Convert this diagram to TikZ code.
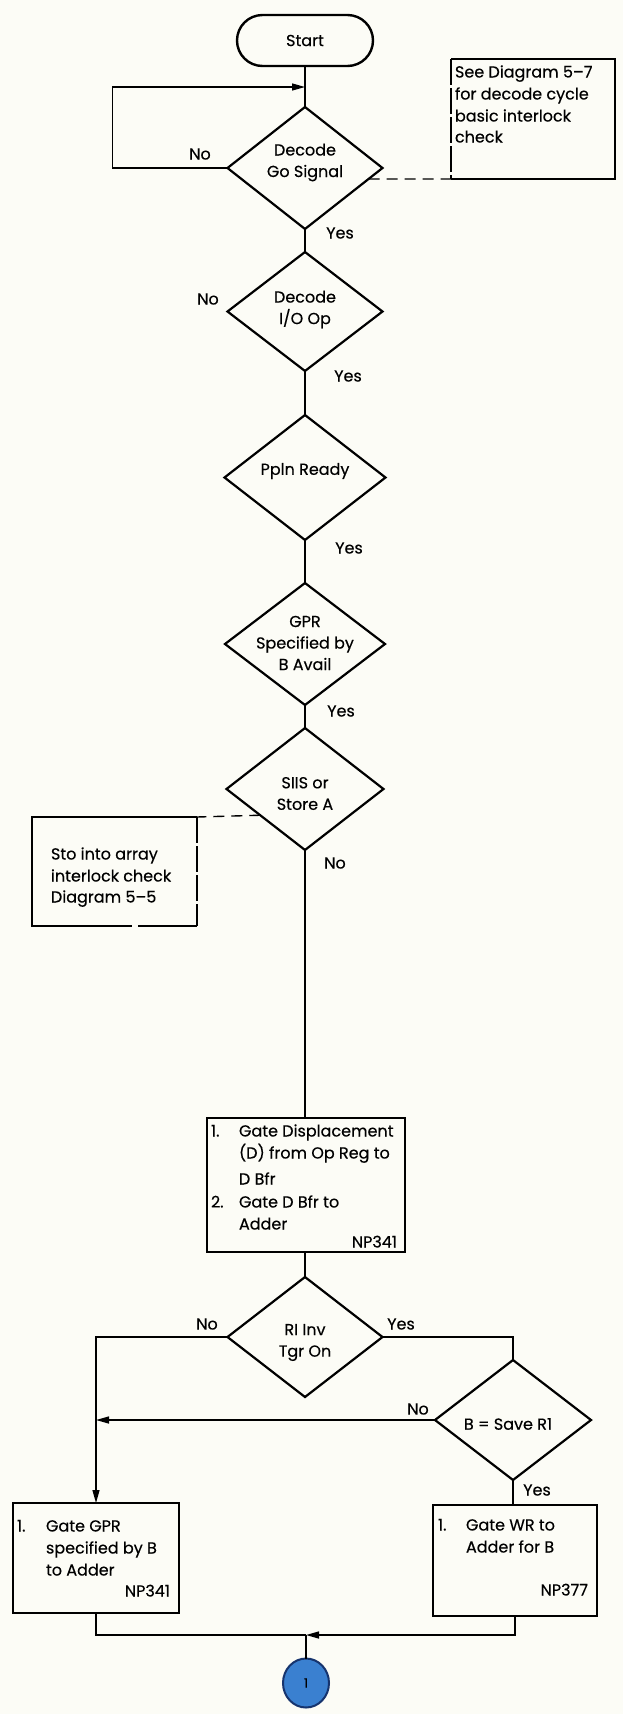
\documentclass[tikz,border=0pt]{standalone}
\usepackage{fontspec}
\setmainfont{Poppins}[FakeBold=0.35]
\usetikzlibrary{shapes.geometric,shapes.misc,arrows.meta,calc}
\definecolor{paper}{RGB}{252,252,246}
\definecolor{connfill}{RGB}{58,128,208}
\definecolor{connedge}{RGB}{22,52,110}

% one line of box text, baseline placed a little below the given centre line
\newcommand{\boxline}[5]{\node[tl,anchor=base #2] (#1) at (#3,#4+5.5) {#5};}

\begin{document}
\begin{tikzpicture}[x=1pt,y=-1pt,
  every node/.style={outer sep=0pt, inner sep=0pt},
  txt/.style={font=\fontsize{16}{21.5}\selectfont, align=center},
  tl/.style={font=\fontsize{16}{21.5}\selectfont},
  dec/.style={diamond, draw, line width=2.2pt, minimum width=155pt, minimum height=122pt},
  proc/.style={rectangle, draw, line width=2pt},
  term/.style={rounded rectangle, draw, line width=2.4pt, minimum width=136pt, minimum height=51pt, font=\fontsize{16}{18}\selectfont},
  flow/.style={line width=1.4pt},
  note/.style={line width=1.4pt, dash pattern=on 11pt off 7pt},
  edge/.style={line width=1.7pt},
  longdash/.style={line width=1.7pt, dash pattern=on 26pt off 3pt},
  arr/.style={-{Triangle[length=13pt,width=7pt]}},
]
\fill[paper] (0,0) rectangle (623,1714);
\useasboundingbox (0,0) rectangle (623,1714);

% ---- main column ----
\node[term] (start) at (305,40.5) {Start};

\node[dec] (go) at (305,168) {};
\node[txt] (goT) at (305,162.5) {Decode\\Go Signal};

\node[dec, minimum height=119pt] (io) at (305,311.5) {};
\node[txt] (ioT) at (305,309.5) {Decode\\I/O Op};

\node[dec, minimum width=161pt, minimum height=125pt] (ppln) at (305,477.5) {};
\node[txt] (pplnT) at (305,471) {Ppln Ready};

\node[dec, minimum width=160pt] (gpr) at (305,644) {};
\node[txt] (gprT) at (305,643) {GPR\\Specified by\\B Avail};

\node[dec, minimum width=157pt] (siis) at (305,789) {};
\node[txt] (siisT) at (305,793.5) {SIIS or\\Store A};

\node[proc, minimum width=198pt, minimum height=134pt] (disp) at (306,1185) {};
\boxline{dA}{west}{211}{1131}{1.}
\boxline{dB}{west}{239}{1131}{Gate Displacement}
\boxline{dC}{west}{239}{1153}{(D) from Op Reg to}
\boxline{dD}{west}{239}{1179}{D Bfr}
\boxline{dE}{west}{211}{1202}{2.}
\boxline{dF}{west}{239}{1202}{Gate D Bfr to}
\boxline{dG}{west}{239}{1224}{Adder}
\boxline{dH}{east}{397}{1242}{NP341}

\node[dec, minimum height=120pt] (ri) at (305,1337) {};
\node[txt] (riT) at (305,1342.5) {RI Inv\\Tgr On};

\node[dec, minimum width=156pt, minimum height=120pt] (sav) at (513,1420) {};
\node[txt] (savT) at (508,1424) {B = Save R1};

\node[proc, minimum width=166pt, minimum height=110pt] (gpra) at (96,1558) {};
\boxline{gA}{west}{17}{1526}{1.}
\boxline{gB}{west}{46}{1526}{Gate GPR}
\boxline{gC}{west}{46}{1548}{specified by B}
\boxline{gD}{west}{46}{1570}{to Adder}
\boxline{gE}{east}{170}{1591}{NP341}

\node[proc, minimum width=164pt, minimum height=111pt] (wra) at (515,1560.5) {};
\boxline{wA}{west}{438}{1525}{1.}
\boxline{wB}{west}{466}{1525}{Gate WR to}
\boxline{wC}{west}{466}{1547}{Adder for B}
\boxline{wD}{east}{588}{1590}{NP377}

\node[ellipse, draw=connedge, fill=connfill, line width=2pt, minimum width=46pt, minimum height=49pt,
      font=\fontsize{13}{13}\selectfont] (off) at (306,1683) {1};
\coordinate (join) at (306,1635);
\coordinate (loopin) at (305,87);

% ---- connectors ----
\draw[flow] (start.south) -- (go.north);
\draw[flow,arr] (go.west) -- ++(-115,0) |- (loopin);
\draw[flow] (go.south) -- (io.north);
\draw[flow] (io.south) -- (ppln.north);
\draw[flow] (ppln.south) -- (gpr.north);
\draw[flow] (gpr.south) -- (siis.north);
\draw[flow] (siis.south) -- (siis.south |- disp.north);
\draw[flow] (disp.south -| ri.north) -- (ri.north);
\draw[flow,arr] (ri.west) -| (gpra.north);
\draw[flow] (ri.east) -| (sav.north);
\draw[flow,arr] (sav.west) -- (gpra.north |- sav.west);
\draw[flow] (sav.south) -- (sav.south |- wra.north);
\draw[flow] (gpra.south) |- (join);
\draw[flow,arr] (wra.south) |- (join);
\draw[flow] (join) -- (off.north);

% ---- labels ----
\node[tl] (l1) at (200,154) {No};
\node[tl] (l2) at (340,233) {Yes};
\node[tl] (l3) at (208,299) {No};
\node[tl] (l4) at (348,376) {Yes};
\node[tl] (l5) at (349,548) {Yes};
\node[tl] (l6) at (341,711) {Yes};
\node[tl] (l7) at (335,863) {No};
\node[tl] (l8) at (207,1324) {No};
\node[tl] (l9) at (401,1324) {Yes};
\node[tl] (l10) at (418,1409) {No};
\node[tl] (l11) at (537,1490) {Yes};

% ---- annotation: decode cycle interlock ----
\node[rectangle, minimum width=164pt, minimum height=120pt] (see) at (533,119) {};
\draw[edge] (see.south west) -- (see.south east) -- (see.north east) -- (see.north west);
\draw[longdash] (see.north west) -- (see.south west);
\boxline{sA}{west}{455}{72}{See Diagram 5--7}
\boxline{sB}{west}{455}{94}{for decode cycle}
\boxline{sC}{west}{455}{116}{basic interlock}
\boxline{sD}{west}{455}{137}{check}
\draw[note] ($(go.east)!0.18!(go.south)$) -- (see.south west);

% ---- annotation: store into array interlock ----
\node[rectangle, minimum width=165pt, minimum height=109pt] (sto) at (114.5,871.5) {};
\draw[edge] (sto.north east) -- (sto.north west) -- (sto.south west) -- ++(100,0);
\draw[edge] (sto.south east) -- ++(-59,0);
\draw[longdash] (sto.north east) -- (sto.south east);
\boxline{tA}{west}{51}{854}{Sto into array}
\boxline{tB}{west}{51}{876}{interlock check}
\boxline{tC}{west}{51}{897}{Diagram 5--5}
\draw[note] ($(siis.west)!0.43!(siis.south)$) -- (sto.north east);
\end{tikzpicture}
\end{document}
